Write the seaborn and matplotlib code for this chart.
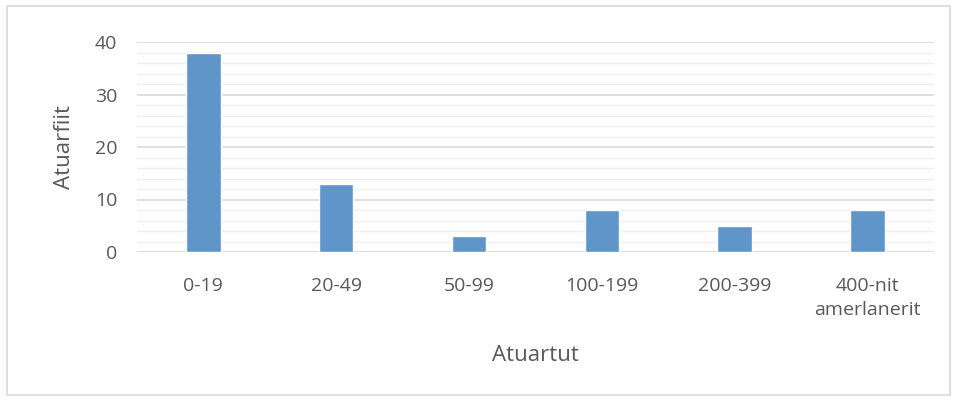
import matplotlib
matplotlib.use("Agg")
import matplotlib.pyplot as plt
import seaborn as sns
import pandas as pd
from matplotlib.patches import Rectangle
from matplotlib.ticker import MultipleLocator

sns.set_theme(style="white")
plt.rcParams['font.family'] = ['Open Sans', 'DejaVu Sans']

# data
categories = ["0-19", "20-49", "50-99", "100-199", "200-399", "400-nit\namerlanerit"]
values = [38, 13, 3, 8, 5, 8]

df = pd.DataFrame({"Atuartut": categories, "Atuarfiit": values})

TXT = "#595959"
BAR = "#5f95c8"

fig = plt.figure(figsize=(9.57, 4.0), dpi=100)
ax = fig.add_axes([0.143, 0.37, 0.833, 0.525])

sns.barplot(data=df, x="Atuartut", y="Atuarfiit", color=BAR, width=0.26,
            saturation=1, ax=ax, zorder=3)

ax.set_ylim(0, 40)
ax.yaxis.set_major_locator(MultipleLocator(10))
ax.yaxis.set_minor_locator(MultipleLocator(2))
ax.grid(axis="y", which="major", color="#d9d9d9", linewidth=1.2, zorder=0)
ax.grid(axis="y", which="minor", color="#efefef", linewidth=1.0, zorder=0)
ax.set_axisbelow(True)
for s in ax.spines.values():
    s.set_visible(False)
ax.axhline(0, color="#d9d9d9", linewidth=1.2, zorder=1)

ax.tick_params(axis="both", which="both", length=0, labelsize=14, colors=TXT)
ax.tick_params(axis="x", pad=18)
ax.tick_params(axis="y", pad=14)
for lbl in ax.get_xticklabels():
    lbl.set_linespacing(1.4)

ax.set_xlabel("Atuartut", fontsize=16, color=TXT, labelpad=19)
ax.set_ylabel("Atuarfiit", fontsize=16, color=TXT, labelpad=14)

fig.patches.append(Rectangle((0.007, 0.012), 0.986, 0.972, transform=fig.transFigure,
                             fill=False, edgecolor="#d9d9d9", linewidth=1.2))

fig.savefig("out.png", dpi=100)
